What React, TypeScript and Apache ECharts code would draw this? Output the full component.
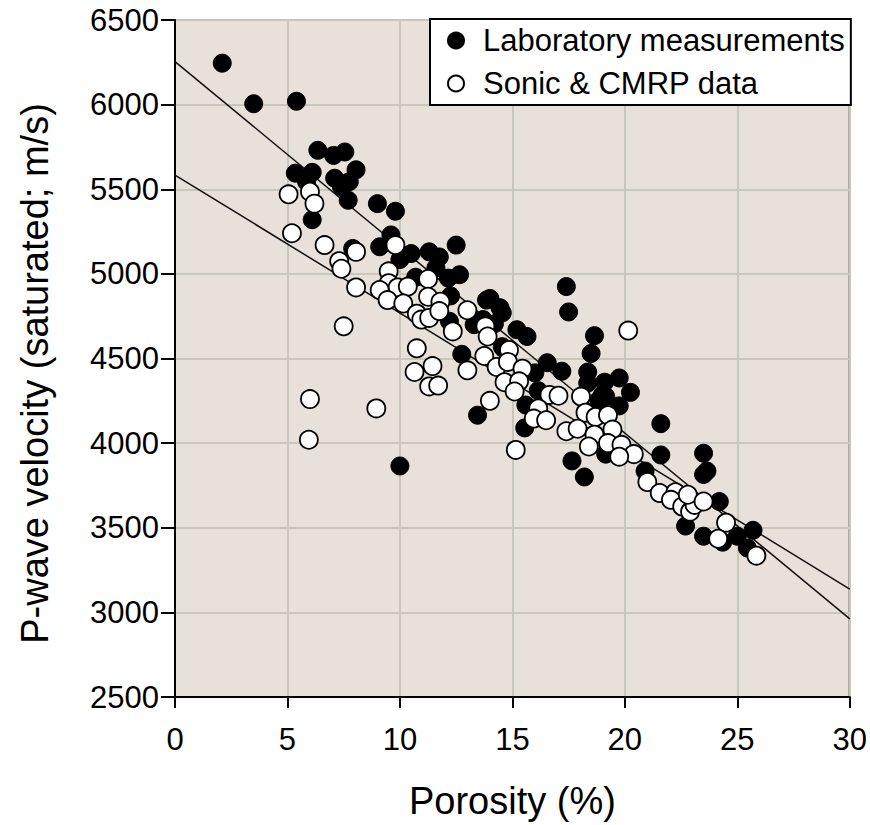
import React, { useEffect, useRef } from "react";
import * as echarts from "echarts";

// Laboratory measurements: [porosity %, velocity m/s]
const labPorosity = [
  2.1, 3.5, 5.4, 6.35, 7.05, 7.55, 5.35, 6.1, 5.85, 7.1, 8.05, 7.75, 7.4, 7.7, 9.0, 9.8, 6.1, 9.6, 9.1, 7.9,
  10.5, 11.3, 11.75, 10.0, 10.7, 12.5, 12.65, 12.15, 12.25, 13.85, 12.2, 13.7, 12.75, 13.45, 10.0, 14.0, 14.45, 14.55, 14.2, 13.3,
  14.6, 15.2, 15.65, 16.0, 16.55, 17.2, 15.6, 15.55, 16.15, 17.4, 17.5, 18.65, 18.5, 18.35, 18.35, 19.1, 19.75, 20.25, 19.15, 19.75,
  19.15, 21.6, 21.6, 17.65, 18.2, 20.9, 23.5, 23.5, 23.65, 24.2, 22.7, 23.5, 24.35, 25.0, 25.7, 25.45, 19.0, 18.85, 11.6, 14.55,
];
const labVelocity = [
  6245, 6005, 6020, 5730, 5700, 5720, 5595, 5600, 5545, 5565, 5615, 5545, 5515, 5435, 5415, 5370, 5320, 5230, 5160, 5150,
  5120, 5130, 5100, 5085, 4980, 5170, 4995, 4975, 4870, 4845, 4720, 4730, 4525, 4165, 3865, 4855, 4800, 4770, 4705, 4700,
  4560, 4670, 4630, 4415, 4475, 4425, 4225, 4090, 4310, 4925, 4775, 4635, 4530, 4420, 4355, 4360, 4385, 4300, 4275, 4220,
  3935, 4115, 3930, 3895, 3800, 3835, 3940, 3815, 3835, 3655, 3510, 3450, 3415, 3450, 3485, 3380, 4285, 4255, 5035, 4570,
];

// Sonic & CMRP data: [porosity %, velocity m/s]
const sonicPorosity = [
  5.05, 6.0, 6.2, 5.2, 6.65, 8.05, 7.3, 7.4, 8.05, 7.5, 9.8, 9.5, 9.5, 9.9, 10.35, 9.1, 9.45, 10.15, 11.25, 11.25,
  11.8, 10.75, 10.95, 11.3, 11.75, 13.0, 12.35, 13.8, 13.9, 10.75, 13.75, 14.85, 14.3, 14.8, 15.45, 13.0, 11.45, 10.65, 11.3, 11.7,
  14.65, 15.3, 15.1, 14.0, 6.0, 8.95, 5.95, 15.15, 16.65, 17.05, 16.15, 15.95, 16.5, 18.05, 18.25, 18.7, 19.25, 17.4, 17.9, 18.65,
  19.45, 18.4, 19.25, 19.85, 20.4, 19.75, 20.15, 21.0, 21.55, 22.25, 22.05, 22.55, 22.9, 23.1, 22.8, 23.5, 24.5, 24.15, 25.85,
];
const sonicVelocity = [
  5470, 5485, 5415, 5240, 5170, 5130, 5075, 5030, 4920, 4690, 5170, 5015, 4945, 4920, 4925, 4905, 4845, 4825, 4970, 4865,
  4835, 4765, 4730, 4740, 4780, 4785, 4660, 4690, 4630, 4560, 4515, 4550, 4450, 4480, 4440, 4430, 4455, 4420, 4335, 4340,
  4360, 4365, 4305, 4250, 4260, 4205, 4020, 3960, 4285, 4280, 4205, 4145, 4135, 4275, 4180, 4155, 4165, 4070, 4085, 4050,
  4080, 3980, 4000, 3990, 3935, 3920, 4665, 3770, 3705, 3710, 3665, 3625, 3595, 3635, 3695, 3655, 3530, 3435, 3335,
];

// Regression lines (endpoints at porosity 0 and 30)
const fitX = [0, 30];
const fitLabY = [6254, 2962];
const fitSonicY = [5584, 3138];

const xTicks = { min: 0, max: 30, interval: 5 };
const yTicks = { min: 2500, max: 6500, interval: 500 };

const FONT = "'Liberation Sans', Arial, Helvetica, sans-serif";

export default function App() {
  const ref = useRef<HTMLDivElement>(null);
  useEffect(() => {
    if (!ref.current) return;
    const chart = echarts.init(ref.current, undefined, { renderer: "svg" });
    const lab = labPorosity.map((x, i) => [x, labVelocity[i]]);
    const sonic = sonicPorosity.map((x, i) => [x, sonicVelocity[i]]);
    const lineStyleFit = { color: "#111", width: 1.5 };
    chart.setOption({
      animation: false,
      textStyle: { fontFamily: FONT },
      grid: {
        left: 175,
        right: 19,
        top: 20,
        bottom: 128,
        show: true,
        backgroundColor: "#e7e1da",
        borderColor: "#000",
        borderWidth: 2,
      },
      legend: {
        data: ["Laboratory measurements", "Sonic & CMRP data"],
        orient: "vertical",
        left: 430,
        top: 19,
        backgroundColor: "#fff",
        borderColor: "#000",
        borderWidth: 2,
        borderRadius: 0,
        padding: [6, 6, 6, 17],
        itemGap: 12,
        itemWidth: 16,
        itemHeight: 16,
        textStyle: { fontSize: 31, color: "#000", fontFamily: FONT, padding: [0, 0, 0, 14] },
      },
      xAxis: {
        type: "value",
        min: xTicks.min,
        max: xTicks.max,
        interval: xTicks.interval,
        name: "Porosity (%)",
        nameLocation: "middle",
        nameGap: 85,
        nameTextStyle: { fontSize: 38, color: "#000", fontFamily: FONT },
        axisLine: { show: true, onZero: false, lineStyle: { color: "#000", width: 2 } },
        axisTick: { show: true, inside: false, length: 11, lineStyle: { color: "#000", width: 2 } },
        axisLabel: { fontSize: 31, color: "#000", margin: 27, fontFamily: FONT },
        splitLine: { show: true, lineStyle: { color: "#c7c7bc", width: 2 } },
      },
      yAxis: {
        type: "value",
        min: yTicks.min,
        max: yTicks.max,
        interval: yTicks.interval,
        name: "P-wave velocity (saturated; m/s)",
        nameLocation: "middle",
        nameGap: 121,
        nameTextStyle: { fontSize: 38, color: "#000", fontFamily: FONT, padding: [0, 30, 0, 0] },
        axisLine: { show: true, onZero: false, lineStyle: { color: "#000", width: 2 } },
        axisTick: { show: true, inside: false, length: 14, lineStyle: { color: "#000", width: 2 } },
        axisLabel: {
          fontSize: 31,
          color: "#000",
          margin: 16,
          fontFamily: FONT,
          formatter: (v: number) => String(v),
        },
        splitLine: { show: true, lineStyle: { color: "#c7c7bc", width: 2 } },
      },
      series: [
        {
          type: "line",
          name: "fit-lab",
          data: fitX.map((x, i) => [x, fitLabY[i]]),
          showSymbol: false,
          symbol: "none",
          lineStyle: lineStyleFit,
          z: 1,
          silent: true,
        },
        {
          type: "line",
          name: "fit-sonic",
          data: fitX.map((x, i) => [x, fitSonicY[i]]),
          showSymbol: false,
          symbol: "none",
          lineStyle: lineStyleFit,
          z: 1,
          silent: true,
        },
        {
          type: "scatter",
          name: "Laboratory measurements",
          data: lab,
          symbol: "circle",
          symbolSize: 18,
          itemStyle: { color: "#000", borderColor: "#000", borderWidth: 1, opacity: 1 },
          z: 2,
        },
        {
          type: "scatter",
          name: "Sonic & CMRP data",
          data: sonic,
          symbol: "circle",
          symbolSize: 18,
          itemStyle: { color: "#fff", borderColor: "#000", borderWidth: 1.8, opacity: 1 },
          z: 3,
        },
      ],
    });
    return () => chart.dispose();
  }, []);
  return (
    <div
      ref={ref}
      style={{ position: "absolute", left: 0, top: 0, width: 870, height: 825, background: "#fff" }}
    />
  );
}
